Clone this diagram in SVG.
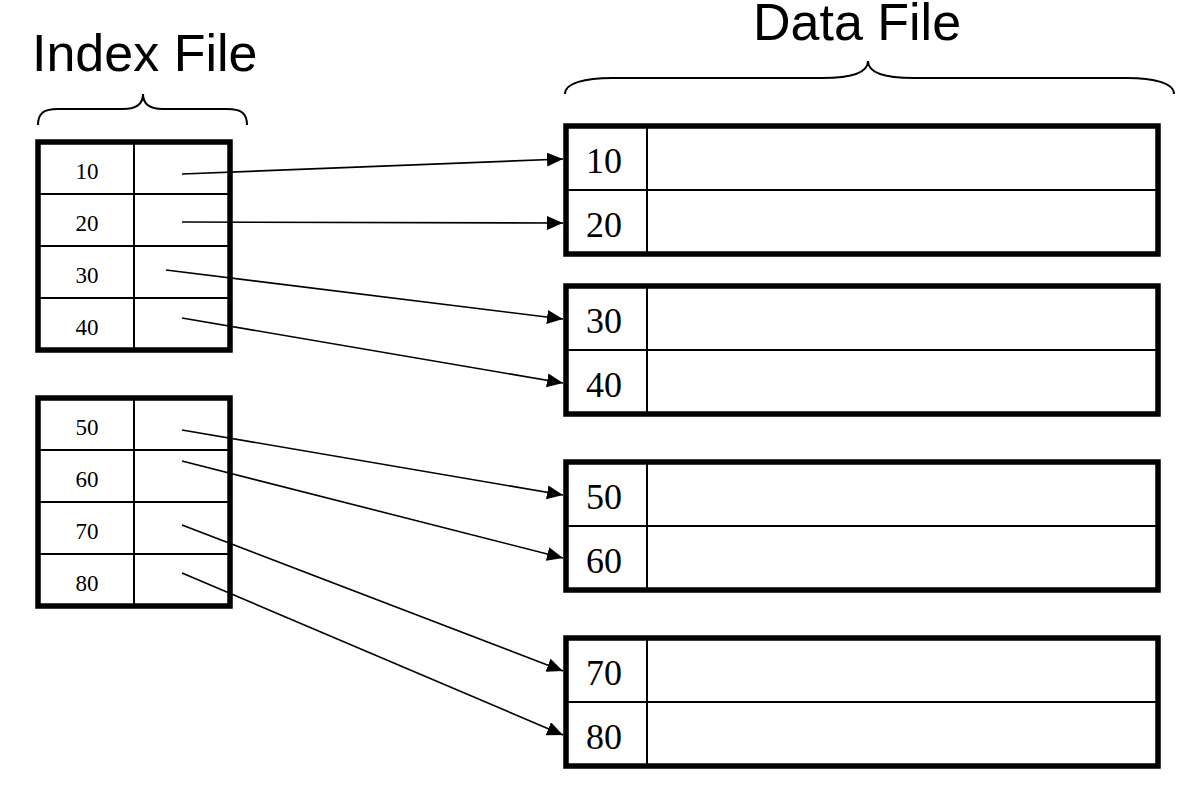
<svg xmlns="http://www.w3.org/2000/svg" width="1198" height="794" viewBox="0 0 1198 794">
<style>
.title{font-family:"Liberation Sans",Arial,sans-serif;font-size:52px;fill:#000}
.brace{fill:none;stroke:#000;stroke-width:2}
.outer{fill:#fff;stroke:#000;stroke-width:5.5}
.inner{fill:none;stroke:#000;stroke-width:2}
.itxt{font-family:"Liberation Serif","Times New Roman",serif;font-size:23px;fill:#000;text-anchor:middle}
.dtxt{font-family:"Liberation Serif","Times New Roman",serif;font-size:36px;fill:#000;text-anchor:middle}
.conn{fill:none;stroke:#000;stroke-width:1.6}
</style>
<defs>
<marker id="ah" markerUnits="userSpaceOnUse" markerWidth="17" markerHeight="15" refX="16" refY="7" orient="auto">
<path d="M0,0 L16,7 L0,14 z" fill="#000"/>
</marker>
</defs>
<g id="titles">
<text class="title" x="32" y="71">Index File</text>
<text class="title" x="753" y="40">Data File</text>
<path class="brace" d="M38,125 C38,113 44,109 58,109 L123,109 C136,109 143,104 143,94 C143,104 150,109 163,109 L227,109 C241,109 247,113 247,125"/>
<path class="brace" d="M565,94 C565,83 585,78 612,78 L822,78 C852,78 868,72 868,61 C868,72 884,78 914,78 L1127,78 C1154,78 1174,83 1174,94"/>
</g>
<g id="index1">
<rect class="outer" x="38" y="142" width="192" height="208"/>
<line class="inner" x1="134" y1="142" x2="134" y2="350"/>
<line class="inner" x1="38" y1="194" x2="230" y2="194"/>
<line class="inner" x1="38" y1="246" x2="230" y2="246"/>
<line class="inner" x1="38" y1="298" x2="230" y2="298"/>
<text class="itxt" x="87" y="179">10</text>
<text class="itxt" x="87" y="231">20</text>
<text class="itxt" x="87" y="283">30</text>
<text class="itxt" x="87" y="335">40</text>
</g>
<g id="index2">
<rect class="outer" x="38" y="398" width="192" height="208"/>
<line class="inner" x1="134" y1="398" x2="134" y2="606"/>
<line class="inner" x1="38" y1="450" x2="230" y2="450"/>
<line class="inner" x1="38" y1="502" x2="230" y2="502"/>
<line class="inner" x1="38" y1="554" x2="230" y2="554"/>
<text class="itxt" x="87" y="435">50</text>
<text class="itxt" x="87" y="487">60</text>
<text class="itxt" x="87" y="539">70</text>
<text class="itxt" x="87" y="591">80</text>
</g>
<g id="data1">
<rect class="outer" x="566" y="126" width="592" height="128"/>
<line class="inner" x1="647" y1="126" x2="647" y2="254"/>
<line class="inner" x1="566" y1="190" x2="1158" y2="190"/>
<text class="dtxt" x="604" y="173">10</text>
<text class="dtxt" x="604" y="237">20</text>
</g>
<g id="data2">
<rect class="outer" x="566" y="286" width="592" height="128"/>
<line class="inner" x1="647" y1="286" x2="647" y2="414"/>
<line class="inner" x1="566" y1="350" x2="1158" y2="350"/>
<text class="dtxt" x="604" y="333">30</text>
<text class="dtxt" x="604" y="397">40</text>
</g>
<g id="data3">
<rect class="outer" x="566" y="462" width="592" height="128"/>
<line class="inner" x1="647" y1="462" x2="647" y2="590"/>
<line class="inner" x1="566" y1="526" x2="1158" y2="526"/>
<text class="dtxt" x="604" y="509">50</text>
<text class="dtxt" x="604" y="573">60</text>
</g>
<g id="data4">
<rect class="outer" x="566" y="638" width="592" height="128"/>
<line class="inner" x1="647" y1="638" x2="647" y2="766"/>
<line class="inner" x1="566" y1="702" x2="1158" y2="702"/>
<text class="dtxt" x="604" y="685">70</text>
<text class="dtxt" x="604" y="749">80</text>
</g>
<g id="connectors">
<line class="conn" x1="182" y1="174" x2="563" y2="159" marker-end="url(#ah)"/>
<line class="conn" x1="182" y1="222" x2="563" y2="223" marker-end="url(#ah)"/>
<line class="conn" x1="166" y1="270" x2="563" y2="319" marker-end="url(#ah)"/>
<line class="conn" x1="182" y1="318" x2="563" y2="383" marker-end="url(#ah)"/>
<line class="conn" x1="182" y1="430" x2="563" y2="495" marker-end="url(#ah)"/>
<line class="conn" x1="182" y1="461" x2="563" y2="558" marker-end="url(#ah)"/>
<line class="conn" x1="182" y1="525" x2="563" y2="671" marker-end="url(#ah)"/>
<line class="conn" x1="182" y1="573" x2="563" y2="735" marker-end="url(#ah)"/>
</g>
</svg>
